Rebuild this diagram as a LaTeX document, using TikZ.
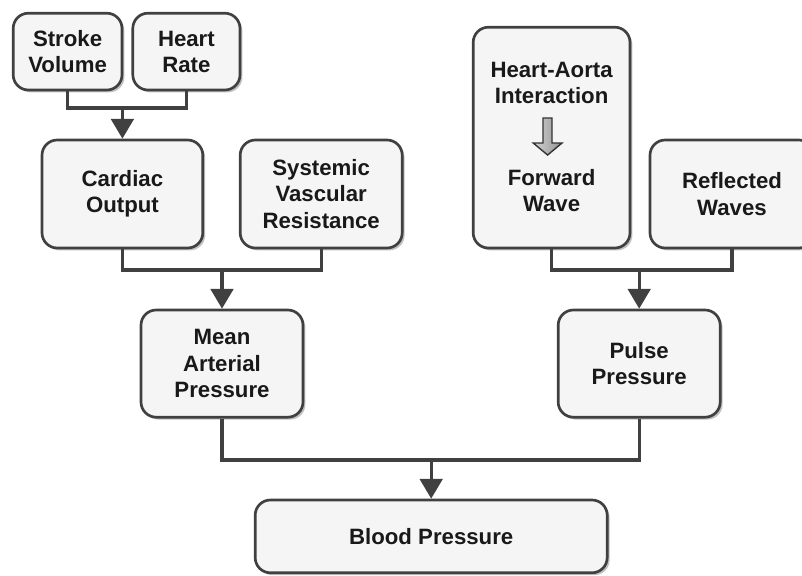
\documentclass[tikz,border=0pt]{standalone}
\usepackage{fontspec}
\setmainfont{Liberation Sans}
\usetikzlibrary{arrows.meta,shadows}

\begin{document}
\begin{tikzpicture}[
    label font/.style={font=\fontsize{15.8}{18.6}\selectfont\bfseries, text=black!90},
    box/.style={draw=black!75, line width=1.9pt, rounded corners=0.38cm, fill=gray!8,
      drop shadow={shadow xshift=0.06cm, shadow yshift=-0.06cm, fill=gray!60, opacity=0.8},
      align=center, inner sep=0pt, label font},
    txt/.style={align=center, inner sep=0pt, label font},
    link/.style={draw=black!75, line width=2.2pt},
    feed/.style={link, -{Triangle[width=16pt,length=14pt]}}
  ]
  \useasboundingbox (0,0) rectangle (20.05,-14.4);
  \clip (0,0) rectangle (20.05,-14.4);

  % left branch
  \node[box, minimum width=2.72cm, minimum height=1.92cm] (sv) at (1.69,-1.29) {Stroke\\Volume};
  \node[box, minimum width=2.68cm, minimum height=1.92cm] (hr) at (4.66,-1.29) {Heart\\Rate};
  \node[box, minimum width=4.02cm, minimum height=2.7cm] (co) at (3.06,-4.85) {Cardiac\\Output};
  \node[box, minimum width=4.05cm, minimum height=2.7cm] (svr) at (8.03,-4.85) {Systemic\\Vascular\\Resistance};
  \node[box, minimum width=4.05cm, minimum height=2.68cm] (map) at (5.55,-9.09) {Mean\\Arterial\\Pressure};

  % right branch
  \node[box, minimum width=3.92cm, minimum height=5.52cm] (hab) at (13.79,-3.44) {};
  \node[txt] (hat) at (13.79,-2.08) {Heart-Aorta\\Interaction};
  \node[txt] (fwt) at (13.79,-4.76) {Forward\\Wave};
  \draw[line width=1pt, draw=black!80, left color=gray!35, right color=gray!85]
    (13.575,-2.95) -- (13.8,-2.95) -- (13.8,-3.575) -- (14.05,-3.575) -- (13.69,-3.875)
    -- (13.33,-3.575) -- (13.575,-3.575) -- cycle;
  \node[box, minimum width=4.1cm, minimum height=2.7cm] (rw) at (18.3,-4.85) {Reflected\\Waves};
  \node[box, minimum width=4.05cm, minimum height=2.68cm] (pp) at (15.98,-9.09) {Pulse\\Pressure};

  \node[box, minimum width=8.8cm, minimum height=1.82cm] (bp) at (10.78,-13.41) {Blood Pressure};

  % connectors
  \coordinate (j1) at (co.north |- 0,-2.7);
  \coordinate (j2) at (map.north |- 0,-6.75);
  \coordinate (j3) at (pp.north |- 0,-6.75);
  \coordinate (j4) at (bp.north |- 0,-11.5);

  \draw[link] (sv.south) |- (j1) -| (hr.south);
  \draw[feed] (j1) -- (co.north);
  \draw[link] (co.south) |- (j2) -| (svr.south);
  \draw[feed] (j2) -- (map.north);
  \draw[link] (hab.south) |- (j3) -| (rw.south);
  \draw[feed] (j3) -- (pp.north);
  \draw[link] (map.south) |- (j4) -| (pp.south);
  \draw[feed] (j4) -- (bp.north);
\end{tikzpicture}
\end{document}
